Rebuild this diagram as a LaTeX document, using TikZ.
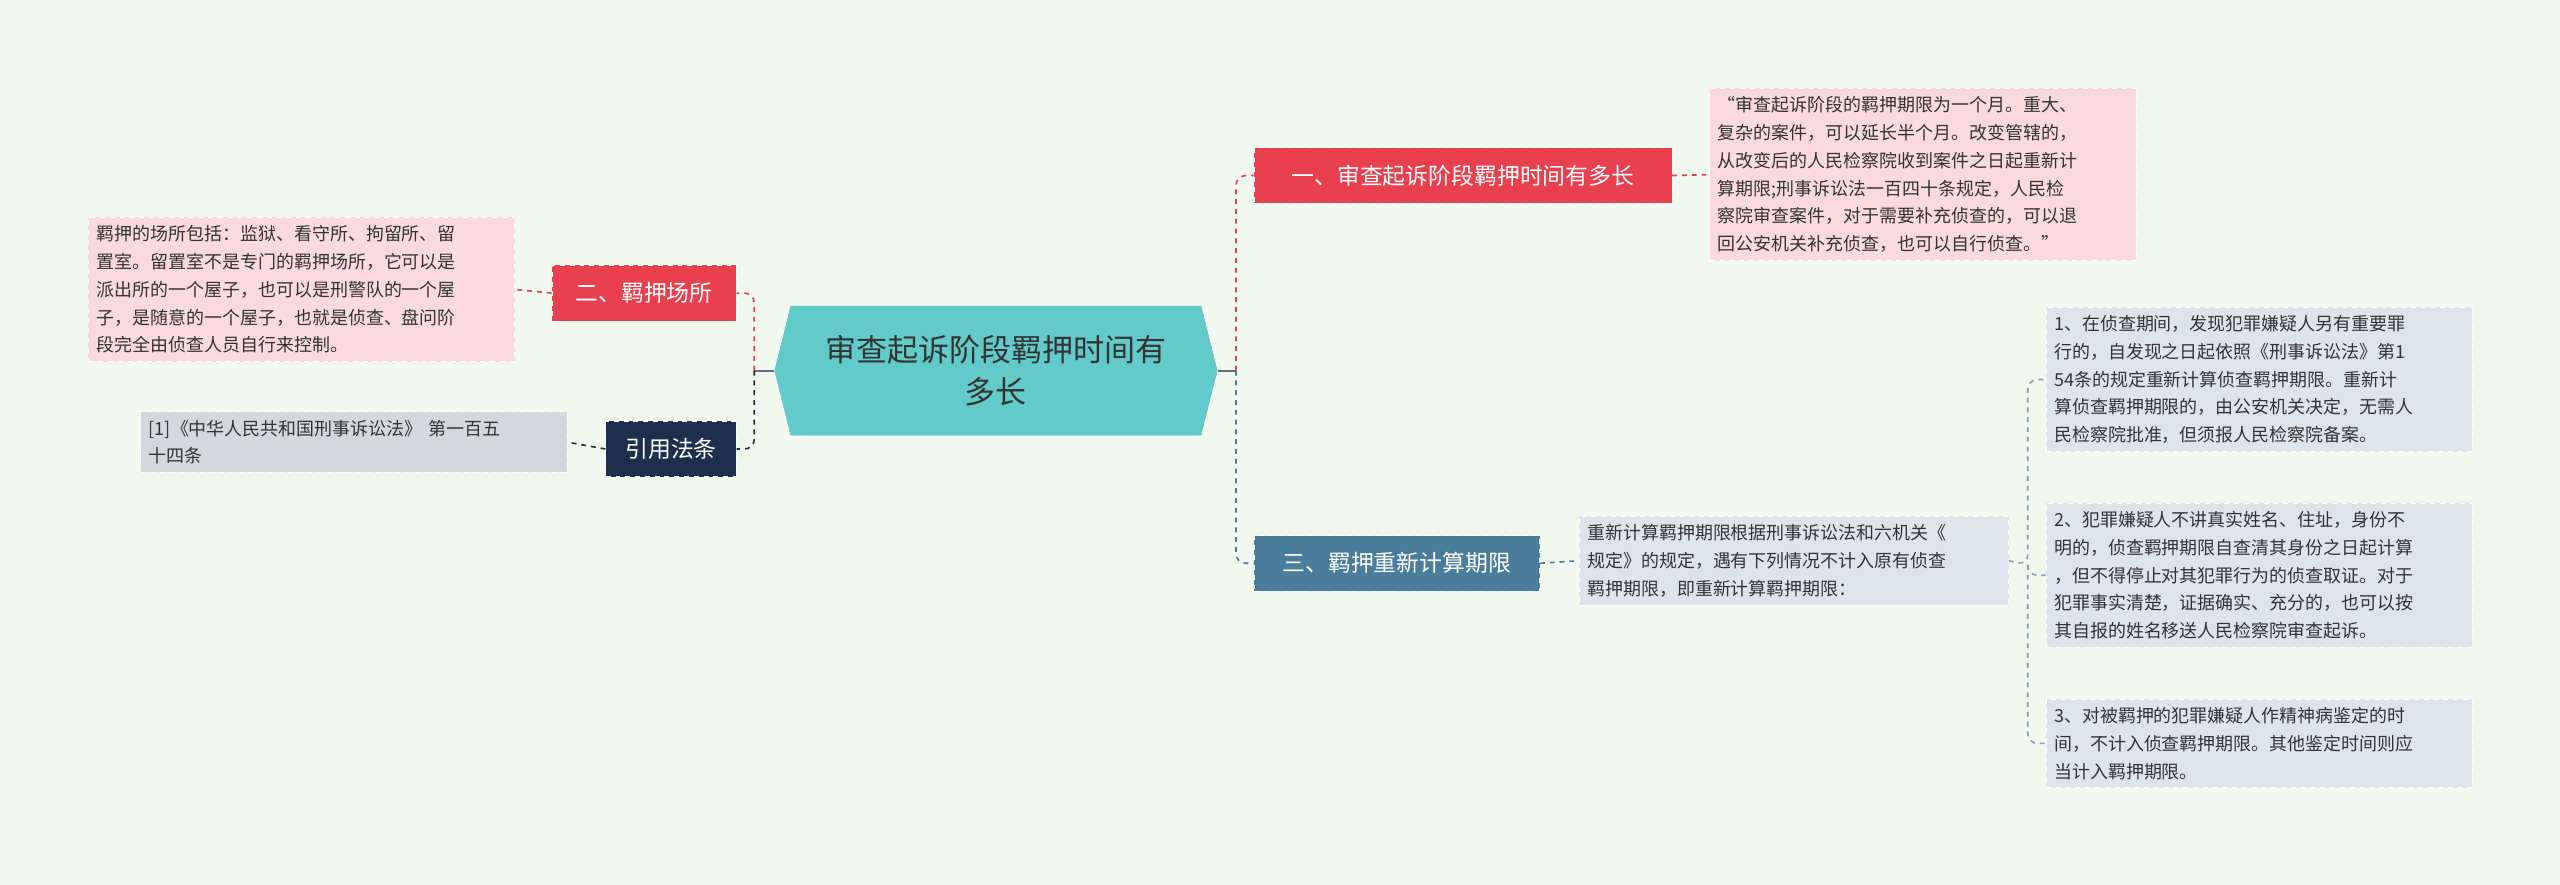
\documentclass[tikz,border=0pt]{standalone}
\usepackage{fontspec}
\setmainfont{Noto Sans CJK SC}
\begin{document}
\begin{tikzpicture}[x=1pt,y=-1pt,
  leaf/.style={draw=white,dashed,inner sep=5pt,align=left,font=\fontsize{11}{17}\selectfont,text=black!80,anchor=north west},
  topic/.style={inner sep=0pt,text=white,font=\fontsize{14}{16}\selectfont,minimum height=34pt,draw=white,dashed},
  con/.style={dashed,line width=1pt,rounded corners=6pt}]
\definecolor{bg}{HTML}{F1F9EE}
\definecolor{cred}{HTML}{E8404E}
\definecolor{pinkf}{HTML}{FADADD}
\definecolor{cblue}{HTML}{4A7C9C}
\definecolor{bluef}{HTML}{DDE5EC}
\definecolor{navy}{HTML}{1E2F4E}
\definecolor{greyf}{HTML}{D4D7DC}
\definecolor{teal}{HTML}{62CBCA}
\fill[bg] (0,0) rectangle (1568,542);
% center
\fill[teal,draw=white] (484,187) -- (736,187) -- (746,227) -- (736,267) -- (484,267) -- (474,227) -- cycle;
\node[font=\fontsize{19}{26}\selectfont,align=center,text=black!80] (c) at (610,227) {审查起诉阶段羁押时间有\\多长};
\coordinate (ce) at (746,227); \coordinate (cw) at (474,227);
% right topics
\node[topic,fill=cred,minimum width=256pt] (r1) at (896,107.5) {一、审查起诉阶段羁押时间有多长};
\node[topic,fill=cblue,minimum width=175pt] (r3) at (855.5,345) {三、羁押重新计算期限};
\node[leaf,fill=pinkf,text width=251pt] (r1a) at (1047,54) {“审查起诉阶段的羁押期限为一个月。重大、\\复杂的案件，可以延长半个月。改变管辖的，\\从改变后的人民检察院收到案件之日起重新计\\算期限;刑事诉讼法一百四十条规定，人民检\\察院审查案件，对于需要补充侦查的，可以退\\回公安机关补充侦查，也可以自行侦查。”};
\node[leaf,fill=bluef,text width=253pt] (r3a) at (967,316) {重新计算羁押期限根据刑事诉讼法和六机关《\\规定》的规定，遇有下列情况不计入原有侦查\\羁押期限，即重新计算羁押期限：};
\node[leaf,fill=bluef,text width=251pt] (l1) at (1253,188) {1、在侦查期间，发现犯罪嫌疑人另有重要罪\\行的，自发现之日起依照《刑事诉讼法》第1\\54条的规定重新计算侦查羁押期限。重新计\\算侦查羁押期限的，由公安机关决定，无需人\\民检察院批准，但须报人民检察院备案。};
\node[leaf,fill=bluef,text width=251pt] (l2) at (1253,308) {2、犯罪嫌疑人不讲真实姓名、住址，身份不\\明的，侦查羁押期限自查清其身份之日起计算\\，但不得停止对其犯罪行为的侦查取证。对于\\犯罪事实清楚，证据确实、充分的，也可以按\\其自报的姓名移送人民检察院审查起诉。};
\node[leaf,fill=bluef,text width=251pt] (l3) at (1253,428) {3、对被羁押的犯罪嫌疑人作精神病鉴定的时\\间，不计入侦查羁押期限。其他鉴定时间则应\\当计入羁押期限。};
% left
\node[topic,fill=cred,minimum width=113pt] (L2) at (394.5,179.5) {二、羁押场所};
\node[topic,fill=navy,minimum width=80pt] (Lc) at (411,275) {引用法条};
\node[leaf,fill=pinkf,text width=251pt] (L2a) at (54,133) {羁押的场所包括：监狱、看守所、拘留所、留\\置室。留置室不是专门的羁押场所，它可以是\\派出所的一个屋子，也可以是刑警队的一个屋\\子，是随意的一个屋子，也就是侦查、盘问阶\\段完全由侦查人员自行来控制。};
\node[leaf,fill=greyf,text width=251pt] (Lca) at (86,252) {[1]《中华人民共和国刑事诉讼法》 第一百五\\十四条};
% connectors
\draw[navy!70,line width=1.2pt] (ce) -- (757,227);
\draw[cred,con] (757,227) |- (r1.west);
\draw[cblue,con] (757,227) |- (r3.west);
\draw[cred,con] (r1.east) -- (r1a.west);
\draw[cblue,con] (r3.east) -- (r3a.west);
\draw[cblue!70,con] (r3a.east) -- (1242,346) |- (l1.west);
\draw[cblue!70,con] (1242,346) |- (l2.west);
\draw[cblue!70,con] (1242,346) |- (l3.west);
\draw[navy!70,line width=1.2pt] (cw) -- (462,227);
\draw[cred,con] (462,227) |- (L2.east);
\draw[navy,con] (462,227) |- (Lc.east);
\draw[cred,con] (L2.west) -- (L2a.east);
\draw[navy,con] (Lc.west) -- (Lca.east);
\end{tikzpicture}
\end{document}
